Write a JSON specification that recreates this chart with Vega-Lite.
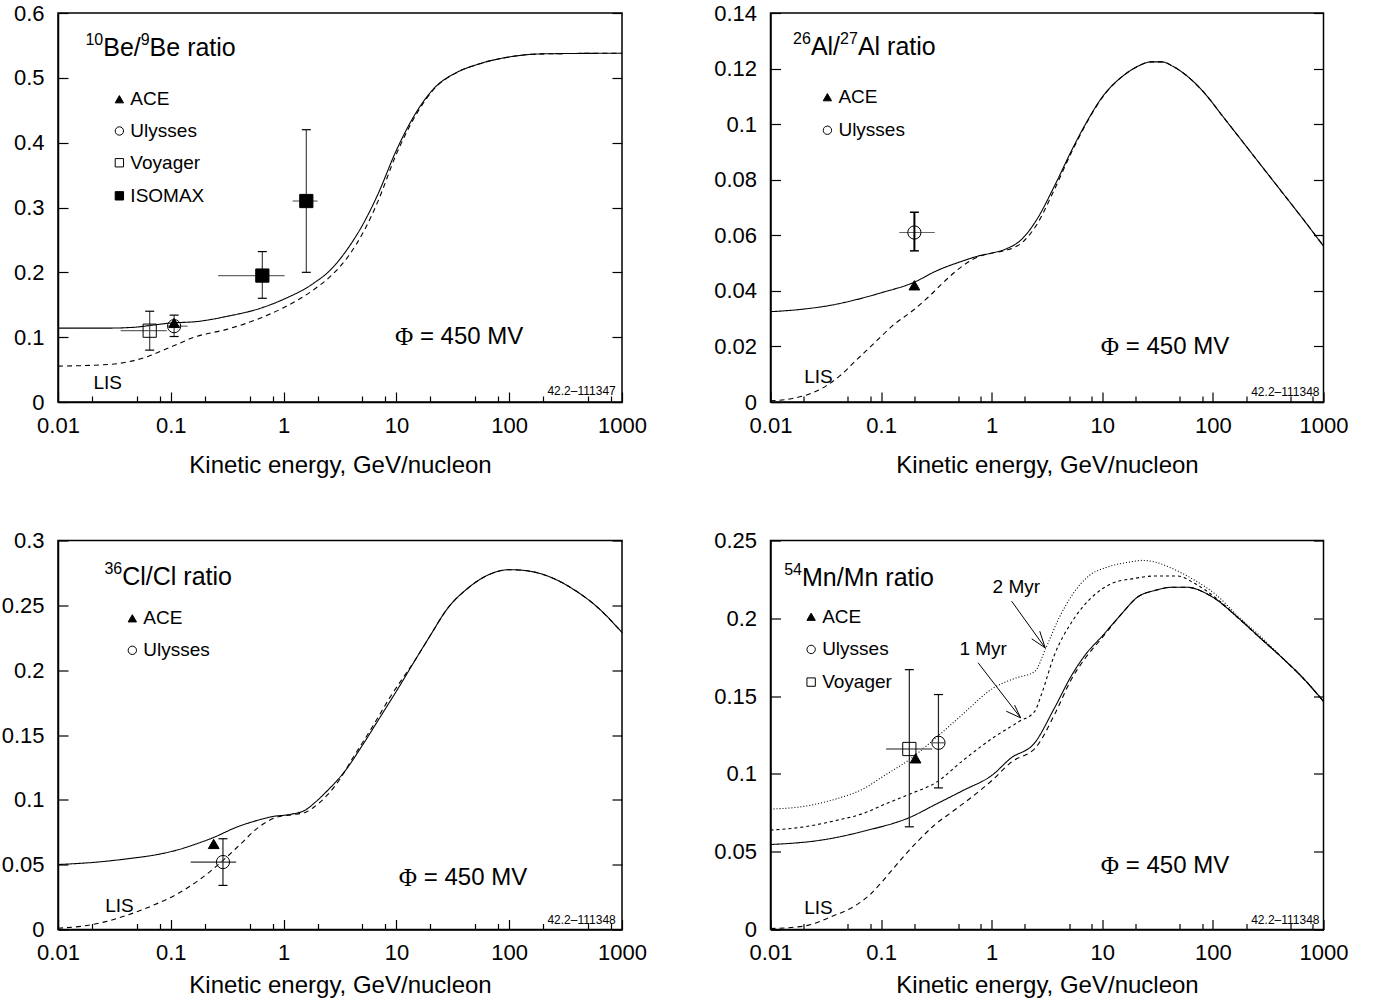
{
  "$schema": "https://vega.github.io/schema/vega-lite/v6.json",
  "background": "white",
  "padding": {"left": 0, "top": 1, "right": 0, "bottom": 0},
  "config": {
    "font": "Liberation Sans",
    "view": {"stroke": "black", "strokeWidth": 1.5},
    "axis": {"grid": false, "labelFont": "Liberation Sans", "labelFontSize": 22, "labelColor": "black", "tickColor": "black", "tickWidth": 1.2, "domainColor": "black", "domainWidth": 1.5, "titleFont": "Liberation Sans", "titleFontSize": 24, "titleFontWeight": "normal", "titleColor": "black"},
    "text": {"font": "Liberation Sans", "color": "black", "baseline": "middle", "align": "left"}
  },
  "datasets": {
    "be_c": [
      {"s":"mod","E":0.01,"v":0.114},{"s":"mod","E":0.0286,"v":0.114},{"s":"mod","E":0.0447,"v":0.115},{"s":"mod","E":0.1035,"v":0.122},{"s":"mod","E":0.168,"v":0.124},{"s":"mod","E":0.313,"v":0.132},{"s":"mod","E":0.634,"v":0.145},{"s":"mod","E":0.988,"v":0.158},{"s":"mod","E":1.84,"v":0.183},{"s":"mod","E":2.61,"v":0.204},{"s":"mod","E":3.72,"v":0.237},{"s":"mod","E":5.31,"v":0.281},{"s":"mod","E":6.92,"v":0.322},{"s":"mod","E":9.86,"v":0.386},{"s":"mod","E":15.4,"v":0.45},{"s":"mod","E":21.9,"v":0.485},{"s":"mod","E":34,"v":0.508},{"s":"mod","E":53,"v":0.521},{"s":"mod","E":98.4,"v":0.532},{"s":"mod","E":200,"v":0.537},{"s":"mod","E":1000,"v":0.538},
      {"s":"lis","E":0.01,"v":0.0553},{"s":"lis","E":0.0286,"v":0.058},{"s":"lis","E":0.0447,"v":0.063},{"s":"lis","E":0.0636,"v":0.0707},{"s":"lis","E":0.1035,"v":0.086},{"s":"lis","E":0.168,"v":0.101},{"s":"lis","E":0.313,"v":0.112},{"s":"lis","E":0.634,"v":0.13},{"s":"lis","E":0.988,"v":0.145},{"s":"lis","E":1.84,"v":0.173},{"s":"lis","E":2.61,"v":0.194},{"s":"lis","E":3.72,"v":0.224},{"s":"lis","E":5.31,"v":0.268},{"s":"lis","E":6.92,"v":0.311},{"s":"lis","E":9.86,"v":0.38},{"s":"lis","E":15.4,"v":0.447},{"s":"lis","E":21.9,"v":0.484},{"s":"lis","E":34,"v":0.508},{"s":"lis","E":53,"v":0.521},{"s":"lis","E":98.4,"v":0.532},{"s":"lis","E":200,"v":0.537},{"s":"lis","E":1000,"v":0.538}
    ],
    "be_d": [
      {"inst":"Voyager","E":0.065,"v":0.11,"vlo":0.08,"vhi":0.14,"Elo":0.036,"Ehi":0.092},
      {"inst":"Ulysses","E":0.107,"v":0.117,"vlo":0.101,"vhi":0.134,"Elo":0.094,"Ehi":0.141},
      {"inst":"ACE","E":0.107,"v":0.122},
      {"inst":"ISOMAX","E":0.648,"v":0.195,"vlo":0.16,"vhi":0.232,"Elo":0.263,"Ehi":1.02},
      {"inst":"ISOMAX","E":1.59,"v":0.31,"vlo":0.2,"vhi":0.42,"Elo":1.2,"Ehi":2.0}
    ],
    "be_k": [
      {"inst":"ACE","E":0.035,"v":0.467},{"inst":"Ulysses","E":0.035,"v":0.418},{"inst":"Voyager","E":0.035,"v":0.369},{"inst":"ISOMAX","E":0.035,"v":0.318}
    ],
    "be_n": [
      {"k":"title","a":"10","b":"Be/","c":"9","d":"Be ratio","E":0.0175,"v":0.546},
      {"k":"phi","sym":"Φ","t":"= 450 MV","E":9.7,"v":0.101},
      {"k":"lis","t":"LIS","E":0.0206,"v":0.029},
      {"k":"code","t":"42.2–111347","E":880,"v":0.0165}
    ],
    "al_c": [
      {"s":"mod","E":0.01,"v":0.0325},{"s":"mod","E":0.0185,"v":0.0333},{"s":"mod","E":0.035,"v":0.0348},{"s":"mod","E":0.0605,"v":0.0369},{"s":"mod","E":0.1,"v":0.0393},{"s":"mod","E":0.199,"v":0.0431},{"s":"mod","E":0.313,"v":0.0471},{"s":"mod","E":0.542,"v":0.0507},{"s":"mod","E":0.782,"v":0.0527},{"s":"mod","E":1.03,"v":0.0537},{"s":"mod","E":1.35,"v":0.0551},{"s":"mod","E":1.86,"v":0.0585},{"s":"mod","E":2.56,"v":0.0657},{"s":"mod","E":3.69,"v":0.0777},{"s":"mod","E":5.32,"v":0.0908},{"s":"mod","E":7.0,"v":0.0998},{"s":"mod","E":10.1,"v":0.11},{"s":"mod","E":15.9,"v":0.1178},{"s":"mod","E":20.9,"v":0.1208},{"s":"mod","E":27.5,"v":0.1224},{"s":"mod","E":34.7,"v":0.1224},{"s":"mod","E":43.5,"v":0.1208},{"s":"mod","E":57.3,"v":0.1176},{"s":"mod","E":82.6,"v":0.1115},{"s":"mod","E":124.5,"v":0.1025},{"s":"mod","E":188,"v":0.0934},{"s":"mod","E":271,"v":0.0853},{"s":"mod","E":428,"v":0.0752},{"s":"mod","E":675,"v":0.0651},{"s":"mod","E":1000,"v":0.0561},
      {"s":"lis","E":0.01,"v":0.0004},{"s":"lis","E":0.0154,"v":0.0012},{"s":"lis","E":0.0222,"v":0.0028},{"s":"lis","E":0.0319,"v":0.0058},{"s":"lis","E":0.042,"v":0.0093},{"s":"lis","E":0.0605,"v":0.0153},{"s":"lis","E":0.0871,"v":0.0213},{"s":"lis","E":0.1256,"v":0.0273},{"s":"lis","E":0.199,"v":0.0333},{"s":"lis","E":0.273,"v":0.0381},{"s":"lis","E":0.376,"v":0.0435},{"s":"lis","E":0.542,"v":0.0489},{"s":"lis","E":0.782,"v":0.0525},{"s":"lis","E":1.03,"v":0.0537},{"s":"lis","E":1.35,"v":0.0546},{"s":"lis","E":1.95,"v":0.0579},{"s":"lis","E":2.56,"v":0.0639},{"s":"lis","E":3.69,"v":0.0765},{"s":"lis","E":5.32,"v":0.0902},{"s":"lis","E":7.0,"v":0.0995},{"s":"lis","E":10.1,"v":0.1098},{"s":"lis","E":15.9,"v":0.1178},{"s":"lis","E":20.9,"v":0.1208},{"s":"lis","E":27.5,"v":0.1224},{"s":"lis","E":34.7,"v":0.1224},{"s":"lis","E":43.5,"v":0.1208},{"s":"lis","E":57.3,"v":0.1176},{"s":"lis","E":82.6,"v":0.1115},{"s":"lis","E":124.5,"v":0.1025},{"s":"lis","E":188,"v":0.0934},{"s":"lis","E":271,"v":0.0853},{"s":"lis","E":428,"v":0.0752},{"s":"lis","E":675,"v":0.0651},{"s":"lis","E":1000,"v":0.0561}
    ],
    "al_d": [
      {"inst":"Ulysses","E":0.2,"v":0.061,"vlo":0.0544,"vhi":0.0683,"Elo":0.146,"Ehi":0.306},
      {"inst":"ACE","E":0.2,"v":0.042}
    ],
    "al_k": [
      {"inst":"ACE","E":0.0327,"v":0.1097},{"inst":"Ulysses","E":0.0327,"v":0.0978}
    ],
    "al_n": [
      {"k":"title","a":"26","b":"Al/","c":"27","d":"Al ratio","E":0.016,"v":0.1277},
      {"k":"phi","sym":"Φ","t":"= 450 MV","E":9.69,"v":0.0199},
      {"k":"lis","t":"LIS","E":0.0202,"v":0.0091},
      {"k":"code","t":"42.2–111348","E":920,"v":0.0036}
    ],
    "cl_c": [
      {"s":"mod","E":0.01,"v":0.0501},{"s":"mod","E":0.0216,"v":0.0519},{"s":"mod","E":0.0409,"v":0.0545},{"s":"mod","E":0.0812,"v":0.0583},{"s":"mod","E":0.115,"v":0.0614},{"s":"mod","E":0.168,"v":0.066},{"s":"mod","E":0.2415,"v":0.0711},{"s":"mod","E":0.38,"v":0.0788},{"s":"mod","E":0.599,"v":0.0844},{"s":"mod","E":0.787,"v":0.087},{"s":"mod","E":1.18,"v":0.089},{"s":"mod","E":1.55,"v":0.092},{"s":"mod","E":1.9,"v":0.098},{"s":"mod","E":2.44,"v":0.107},{"s":"mod","E":3.51,"v":0.1223},{"s":"mod","E":5.05,"v":0.1427},{"s":"mod","E":7.26,"v":0.1645},{"s":"mod","E":10.4,"v":0.1862},{"s":"mod","E":15.0,"v":0.2092},{"s":"mod","E":19.7,"v":0.2259},{"s":"mod","E":28.4,"v":0.2476},{"s":"mod","E":42.7,"v":0.263},{"s":"mod","E":64.3,"v":0.2732},{"s":"mod","E":101,"v":0.2775},{"s":"mod","E":133,"v":0.277},{"s":"mod","E":210,"v":0.2732},{"s":"mod","E":361,"v":0.263},{"s":"mod","E":623,"v":0.2476},{"s":"mod","E":1000,"v":0.229},
      {"s":"lis","E":0.01,"v":0.001},{"s":"lis","E":0.0165,"v":0.0026},{"s":"lis","E":0.026,"v":0.0059},{"s":"lis","E":0.0409,"v":0.011},{"s":"lis","E":0.07,"v":0.0187},{"s":"lis","E":0.115,"v":0.0276},{"s":"lis","E":0.184,"v":0.0391},{"s":"lis","E":0.29,"v":0.0532},{"s":"lis","E":0.416,"v":0.066},{"s":"lis","E":0.599,"v":0.0788},{"s":"lis","E":0.8625,"v":0.0865},{"s":"lis","E":1.18,"v":0.0885},{"s":"lis","E":1.55,"v":0.0903},{"s":"lis","E":2.04,"v":0.0972},{"s":"lis","E":2.93,"v":0.112},{"s":"lis","E":4.21,"v":0.1338},{"s":"lis","E":6.05,"v":0.1555},{"s":"lis","E":8.71,"v":0.1786},{"s":"lis","E":15.0,"v":0.2092},{"s":"lis","E":19.7,"v":0.2259},{"s":"lis","E":28.4,"v":0.2476},{"s":"lis","E":42.7,"v":0.263},{"s":"lis","E":64.3,"v":0.2732},{"s":"lis","E":101,"v":0.2775},{"s":"lis","E":133,"v":0.277},{"s":"lis","E":210,"v":0.2732},{"s":"lis","E":361,"v":0.263},{"s":"lis","E":623,"v":0.2476},{"s":"lis","E":1000,"v":0.229}
    ],
    "cl_d": [
      {"inst":"ACE","E":0.24,"v":0.066},
      {"inst":"Ulysses","E":0.29,"v":0.052,"vlo":0.034,"vhi":0.07,"Elo":0.15,"Ehi":0.38}
    ],
    "cl_k": [
      {"inst":"ACE","E":0.0456,"v":0.24},{"inst":"Ulysses","E":0.0456,"v":0.2153}
    ],
    "cl_n": [
      {"k":"title","a":"36","b":"Cl/Cl ratio","E":0.0258,"v":0.2716},
      {"k":"phi","sym":"Φ","t":"= 450 MV","E":10.5,"v":0.0401},
      {"k":"lis","t":"LIS","E":0.0262,"v":0.0185},
      {"k":"code","t":"42.2–111348","E":880,"v":0.0077}
    ],
    "mn_c": [
      {"s":"mod","E":0.01,"v":0.0546},{"s":"mod","E":0.0291,"v":0.0575},{"s":"mod","E":0.0726,"v":0.0635},{"s":"mod","E":0.181,"v":0.072},{"s":"mod","E":0.313,"v":0.0805},{"s":"mod","E":0.542,"v":0.0891},{"s":"mod","E":1.03,"v":0.0997},{"s":"mod","E":1.48,"v":0.11},{"s":"mod","E":2.45,"v":0.12},{"s":"mod","E":3.69,"v":0.1423},{"s":"mod","E":5.32,"v":0.1637},{"s":"mod","E":7.0,"v":0.1764},{"s":"mod","E":10.1,"v":0.189},{"s":"mod","E":14.6,"v":0.202},{"s":"mod","E":20.9,"v":0.2137},{"s":"mod","E":30.2,"v":0.218},{"s":"mod","E":43.5,"v":0.22},{"s":"mod","E":57.3,"v":0.22},{"s":"mod","E":99,"v":0.2137},{"s":"mod","E":171,"v":0.2},{"s":"mod","E":271,"v":0.187},{"s":"mod","E":428,"v":0.1743},{"s":"mod","E":675,"v":0.1605},{"s":"mod","E":1000,"v":0.1466},
      {"s":"lis","E":0.01,"v":0.0006},{"s":"lis","E":0.0154,"v":0.0013},{"s":"lis","E":0.0222,"v":0.0028},{"s":"lis","E":0.035,"v":0.0081},{"s":"lis","E":0.0605,"v":0.016},{"s":"lis","E":0.0796,"v":0.0225},{"s":"lis","E":0.1,"v":0.03},{"s":"lis","E":0.13,"v":0.0395},{"s":"lis","E":0.165,"v":0.048},{"s":"lis","E":0.217,"v":0.0571},{"s":"lis","E":0.299,"v":0.0667},{"s":"lis","E":0.452,"v":0.0763},{"s":"lis","E":0.714,"v":0.087},{"s":"lis","E":1.03,"v":0.0965},{"s":"lis","E":1.48,"v":0.1072},{"s":"lis","E":2.56,"v":0.1178},{"s":"lis","E":3.69,"v":0.138},{"s":"lis","E":5.32,"v":0.1615},{"s":"lis","E":7.0,"v":0.1743},{"s":"lis","E":10.1,"v":0.188},{"s":"lis","E":14.6,"v":0.202},{"s":"lis","E":20.9,"v":0.2137},{"s":"lis","E":30.2,"v":0.218},{"s":"lis","E":43.5,"v":0.22},{"s":"lis","E":57.3,"v":0.22},{"s":"lis","E":99,"v":0.2137},{"s":"lis","E":171,"v":0.2},{"s":"lis","E":271,"v":0.187},{"s":"lis","E":428,"v":0.1743},{"s":"lis","E":675,"v":0.1605},{"s":"lis","E":1000,"v":0.1466},
      {"s":"m1","E":0.01,"v":0.0639},{"s":"m1","E":0.0185,"v":0.0656},{"s":"m1","E":0.0383,"v":0.0699},{"s":"m1","E":0.0726,"v":0.0752},{"s":"m1","E":0.1,"v":0.0795},{"s":"m1","E":0.181,"v":0.087},{"s":"m1","E":0.313,"v":0.0944},{"s":"m1","E":0.542,"v":0.1083},{"s":"m1","E":1.03,"v":0.1232},{"s":"m1","E":1.78,"v":0.1338},{"s":"m1","E":2.45,"v":0.1402},{"s":"m1","E":2.81,"v":0.1509},{"s":"m1","E":3.69,"v":0.1764},{"s":"m1","E":5.32,"v":0.1978},{"s":"m1","E":8.41,"v":0.2148},{"s":"m1","E":12.1,"v":0.2223},{"s":"m1","E":19.1,"v":0.2255},{"s":"m1","E":30.2,"v":0.2272},{"s":"m1","E":47.8,"v":0.2272},{"s":"m1","E":68.7,"v":0.2223},{"s":"m1","E":108,"v":0.2127},{"s":"m1","E":171,"v":0.2},{"s":"m1","E":271,"v":0.187},{"s":"m1","E":428,"v":0.1743},{"s":"m1","E":675,"v":0.1605},{"s":"m1","E":1000,"v":0.1466},
      {"s":"m2","E":0.01,"v":0.0774},{"s":"m2","E":0.0185,"v":0.0788},{"s":"m2","E":0.0383,"v":0.0837},{"s":"m2","E":0.0726,"v":0.0912},{"s":"m2","E":0.1,"v":0.0976},{"s":"m2","E":0.181,"v":0.1093},{"s":"m2","E":0.313,"v":0.1232},{"s":"m2","E":0.542,"v":0.1381},{"s":"m2","E":1.03,"v":0.1551},{"s":"m2","E":1.63,"v":0.1615},{"s":"m2","E":2.45,"v":0.1658},{"s":"m2","E":3.08,"v":0.1807},{"s":"m2","E":4.05,"v":0.2},{"s":"m2","E":5.32,"v":0.2148},{"s":"m2","E":7.67,"v":0.2276},{"s":"m2","E":11.1,"v":0.2329},{"s":"m2","E":17.5,"v":0.2361},{"s":"m2","E":23.0,"v":0.2372},{"s":"m2","E":30.2,"v":0.2361},{"s":"m2","E":43.5,"v":0.2318},{"s":"m2","E":68.7,"v":0.2244},{"s":"m2","E":108,"v":0.2148},{"s":"m2","E":171,"v":0.2009},{"s":"m2","E":271,"v":0.1882},{"s":"m2","E":428,"v":0.1743},{"s":"m2","E":675,"v":0.1605},{"s":"m2","E":1000,"v":0.1466}
    ],
    "mn_d": [
      {"inst":"Voyager","E":0.18,"v":0.116,"vlo":0.066,"vhi":0.167,"Elo":0.111,"Ehi":0.29},
      {"inst":"ACE","E":0.205,"v":0.11},
      {"inst":"Ulysses","E":0.33,"v":0.12,"vlo":0.091,"vhi":0.151,"Elo":0.29,"Ehi":0.375}
    ],
    "mn_k": [
      {"inst":"ACE","E":0.0233,"v":0.201},{"inst":"Ulysses","E":0.0233,"v":0.18},{"inst":"Voyager","E":0.0233,"v":0.159}
    ],
    "mn_n": [
      {"k":"title","a":"54","b":"Mn/Mn ratio","E":0.0133,"v":0.226},
      {"k":"phi","sym":"Φ","t":"= 450 MV","E":9.69,"v":0.0411},
      {"k":"lis","t":"LIS","E":0.0202,"v":0.0141},
      {"k":"code","t":"42.2–111348","E":920,"v":0.0064},
      {"k":"myr","t":"2 Myr","E":1.67,"v":0.2198},
      {"k":"myr","t":"1 Myr","E":0.837,"v":0.18}
    ],
    "mn_a": [
      {"E1":1.514,"v1":0.211,"E2":3.045,"v2":0.181},
      {"E1":2.72,"v1":0.1917,"E2":3.045,"v2":0.181},
      {"E1":2.3,"v1":0.1868,"E2":3.045,"v2":0.181},
      {"E1":0.754,"v1":0.1714,"E2":1.827,"v2":0.136},
      {"E1":1.612,"v1":0.1442,"E2":1.827,"v2":0.136},
      {"E1":1.354,"v1":0.1403,"E2":1.827,"v2":0.136}
    ]
  },
  "columns": 2,
  "spacing": {"row": 138.5, "column": 148.5},
  "bounds": "flush",
  "concat": [
    {
      "width": 564, "height": 389,
      "resolve": {"axis": {"x": "independent", "y": "independent"}},
      "layer": [
        {"data": {"name": "be_c"}, "mark": {"type": "line", "interpolate": "monotone", "color": "black", "strokeWidth": 1.1},
         "encoding": {
           "x": {"field": "E", "type": "quantitative", "scale": {"type": "log", "domain": [0.01, 1000], "nice": false}, "axis": {"orient": "bottom", "values": [0.01, 0.1, 1, 10, 100, 1000], "format": "~g", "tickSize": -10, "labelPadding": 23, "labelFlush": false, "labelOverlap": false, "title": "Kinetic energy, GeV/nucleon", "titlePadding": 17}},
           "y": {"field": "v", "type": "quantitative", "scale": {"domain": [0, 0.6], "nice": false, "zero": false}, "axis": {"orient": "left", "values": [0, 0.1, 0.2, 0.3, 0.4, 0.5, 0.6], "format": "~g", "tickSize": -10, "labelPadding": 24, "title": null}},
           "strokeDash": {"field": "s", "type": "nominal", "scale": {"domain": ["mod", "lis", "m1", "m2"], "range": [[1, 0], [5, 4], [3, 3], [1, 2]]}, "legend": null}
         }},
        {"data": {"name": "be_d"}, "mark": {"type": "rule", "color": "#666", "strokeWidth": 1.2},
         "encoding": {
           "x": {"field": "Elo", "type": "quantitative", "axis": {"orient": "bottom", "values": [0.02, 0.05, 0.08, 0.2, 0.5, 0.8, 2, 5, 8, 20, 50, 80, 200, 500, 800], "labels": false, "domain": false, "tickSize": -6, "title": null}},
           "x2": {"field": "Ehi"},
           "y": {"field": "v", "type": "quantitative", "axis": {"orient": "right", "values": [0, 0.1, 0.2, 0.3, 0.4, 0.5, 0.6], "labels": false, "domain": false, "tickSize": -10, "title": null}}
         }},
        {"data": {"name": "be_d"}, "mark": {"type": "rule", "color": "#444", "strokeWidth": 1.2},
         "encoding": {"x": {"field": "E", "type": "quantitative", "axis": null}, "y": {"field": "vlo", "type": "quantitative", "axis": null}, "y2": {"field": "vhi"}}},
        {"data": {"name": "be_d"}, "mark": {"type": "tick", "orient": "horizontal", "color": "black", "thickness": 1.2, "size": 9, "opacity": 1},
         "encoding": {"x": {"field": "E", "type": "quantitative", "axis": null}, "y": {"field": "vlo", "type": "quantitative", "axis": null}}},
        {"data": {"name": "be_d"}, "mark": {"type": "tick", "orient": "horizontal", "color": "black", "thickness": 1.2, "size": 9, "opacity": 1},
         "encoding": {"x": {"field": "E", "type": "quantitative", "axis": null}, "y": {"field": "vhi", "type": "quantitative", "axis": null}}},
        {"data": {"name": "be_d"}, "mark": {"type": "point", "filled": true, "stroke": "black", "strokeWidth": 1, "opacity": 1},
         "encoding": {
           "x": {"field": "E", "type": "quantitative", "axis": null}, "y": {"field": "v", "type": "quantitative", "axis": null},
           "shape": {"field": "inst", "type": "nominal", "scale": {"domain": ["ACE", "Ulysses", "Voyager", "ISOMAX"], "range": ["triangle-up", "circle", "square", "square"]}, "legend": null},
           "fill": {"field": "inst", "type": "nominal", "scale": {"domain": ["ACE", "Ulysses", "Voyager", "ISOMAX"], "range": ["black", "transparent", "transparent", "black"]}, "legend": null},
           "size": {"field": "inst", "type": "nominal", "scale": {"type": "ordinal", "domain": ["ACE", "Ulysses", "Voyager", "ISOMAX"], "range": [115, 175, 175, 175]}, "legend": null}
         }},
        {"data": {"name": "be_k"}, "mark": {"type": "point", "filled": true, "stroke": "black", "strokeWidth": 1, "opacity": 1, "size": 70},
         "encoding": {"x": {"field": "E", "type": "quantitative", "axis": null}, "y": {"field": "v", "type": "quantitative", "axis": null}, "shape": {"field": "inst", "type": "nominal", "legend": null}, "fill": {"field": "inst", "type": "nominal", "legend": null}}},
        {"data": {"name": "be_k"}, "mark": {"type": "text", "dx": 11, "fontSize": 19},
         "encoding": {"x": {"field": "E", "type": "quantitative", "axis": null}, "y": {"field": "v", "type": "quantitative", "axis": null}, "text": {"field": "inst"}}},
        {"data": {"name": "be_n"}, "transform": [{"filter": "datum.k === 'title'"}], "mark": {"type": "text", "fontSize": 16, "dy": -8},
         "encoding": {"x": {"field": "E", "type": "quantitative", "axis": null}, "y": {"field": "v", "type": "quantitative", "axis": null}, "text": {"field": "a"}}},
        {"data": {"name": "be_n"}, "transform": [{"filter": "datum.k === 'title'"}], "mark": {"type": "text", "fontSize": 25, "dx": 17.8},
         "encoding": {"x": {"field": "E", "type": "quantitative", "axis": null}, "y": {"field": "v", "type": "quantitative", "axis": null}, "text": {"field": "b"}}},
        {"data": {"name": "be_n"}, "transform": [{"filter": "datum.k === 'title'"}], "mark": {"type": "text", "fontSize": 16, "dy": -8, "dx": 55.3},
         "encoding": {"x": {"field": "E", "type": "quantitative", "axis": null}, "y": {"field": "v", "type": "quantitative", "axis": null}, "text": {"field": "c"}}},
        {"data": {"name": "be_n"}, "transform": [{"filter": "datum.k === 'title'"}], "mark": {"type": "text", "fontSize": 25, "dx": 64.2},
         "encoding": {"x": {"field": "E", "type": "quantitative", "axis": null}, "y": {"field": "v", "type": "quantitative", "axis": null}, "text": {"field": "d"}}},
        {"data": {"name": "be_n"}, "transform": [{"filter": "datum.k === 'phi'"}], "mark": {"type": "text", "fontSize": 25, "font": "Liberation Serif"},
         "encoding": {"x": {"field": "E", "type": "quantitative", "axis": null}, "y": {"field": "v", "type": "quantitative", "axis": null}, "text": {"field": "sym"}}},
        {"data": {"name": "be_n"}, "transform": [{"filter": "datum.k === 'phi'"}], "mark": {"type": "text", "dx": 25, "fontSize": 24},
         "encoding": {"x": {"field": "E", "type": "quantitative", "axis": null}, "y": {"field": "v", "type": "quantitative", "axis": null}, "text": {"field": "t"}}},
        {"data": {"name": "be_n"}, "transform": [{"filter": "datum.k === 'lis'"}], "mark": {"type": "text", "fontSize": 19},
         "encoding": {"x": {"field": "E", "type": "quantitative", "axis": null}, "y": {"field": "v", "type": "quantitative", "axis": null}, "text": {"field": "t"}}},
        {"data": {"name": "be_n"}, "transform": [{"filter": "datum.k === 'code'"}], "mark": {"type": "text", "align": "right", "fontSize": 12},
         "encoding": {"x": {"field": "E", "type": "quantitative", "axis": null}, "y": {"field": "v", "type": "quantitative", "axis": null}, "text": {"field": "t"}}}
      ]
    },
    {
      "width": 553, "height": 389,
      "resolve": {"axis": {"x": "independent", "y": "independent"}},
      "layer": [
        {"data": {"name": "al_c"}, "mark": {"type": "line", "interpolate": "monotone", "color": "black", "strokeWidth": 1.1},
         "encoding": {
           "x": {"field": "E", "type": "quantitative", "scale": {"type": "log", "domain": [0.01, 1000], "nice": false}, "axis": {"orient": "bottom", "values": [0.01, 0.1, 1, 10, 100, 1000], "format": "~g", "tickSize": -10, "labelPadding": 23, "labelFlush": false, "labelOverlap": false, "title": "Kinetic energy, GeV/nucleon", "titlePadding": 17}},
           "y": {"field": "v", "type": "quantitative", "scale": {"domain": [0, 0.14], "nice": false, "zero": false}, "axis": {"orient": "left", "values": [0, 0.02, 0.04, 0.06, 0.08, 0.1, 0.12, 0.14], "format": "~g", "tickSize": -10, "labelPadding": 24, "title": null}},
           "strokeDash": {"field": "s", "type": "nominal", "scale": {"domain": ["mod", "lis", "m1", "m2"], "range": [[1, 0], [5, 4], [3, 3], [1, 2]]}, "legend": null}
         }},
        {"data": {"name": "al_d"}, "mark": {"type": "rule", "color": "#666", "strokeWidth": 1.2},
         "encoding": {
           "x": {"field": "Elo", "type": "quantitative", "axis": {"orient": "bottom", "values": [0.02, 0.05, 0.08, 0.2, 0.5, 0.8, 2, 5, 8, 20, 50, 80, 200, 500, 800], "labels": false, "domain": false, "tickSize": -6, "title": null}},
           "x2": {"field": "Ehi"},
           "y": {"field": "v", "type": "quantitative", "axis": {"orient": "right", "values": [0, 0.02, 0.04, 0.06, 0.08, 0.1, 0.12, 0.14], "labels": false, "domain": false, "tickSize": -10, "title": null}}
         }},
        {"data": {"name": "al_d"}, "mark": {"type": "rule", "color": "black", "strokeWidth": 2},
         "encoding": {"x": {"field": "E", "type": "quantitative", "axis": null}, "y": {"field": "vlo", "type": "quantitative", "axis": null}, "y2": {"field": "vhi"}}},
        {"data": {"name": "al_d"}, "mark": {"type": "tick", "orient": "horizontal", "color": "black", "thickness": 1.5, "size": 9, "opacity": 1},
         "encoding": {"x": {"field": "E", "type": "quantitative", "axis": null}, "y": {"field": "vlo", "type": "quantitative", "axis": null}}},
        {"data": {"name": "al_d"}, "mark": {"type": "tick", "orient": "horizontal", "color": "black", "thickness": 1.5, "size": 9, "opacity": 1},
         "encoding": {"x": {"field": "E", "type": "quantitative", "axis": null}, "y": {"field": "vhi", "type": "quantitative", "axis": null}}},
        {"data": {"name": "al_d"}, "mark": {"type": "point", "filled": true, "stroke": "black", "strokeWidth": 1, "opacity": 1},
         "encoding": {
           "x": {"field": "E", "type": "quantitative", "axis": null}, "y": {"field": "v", "type": "quantitative", "axis": null},
           "shape": {"field": "inst", "type": "nominal", "scale": {"domain": ["ACE", "Ulysses", "Voyager", "ISOMAX"], "range": ["triangle-up", "circle", "square", "square"]}, "legend": null},
           "fill": {"field": "inst", "type": "nominal", "scale": {"domain": ["ACE", "Ulysses", "Voyager", "ISOMAX"], "range": ["black", "transparent", "transparent", "black"]}, "legend": null},
           "size": {"field": "inst", "type": "nominal", "scale": {"type": "ordinal", "domain": ["ACE", "Ulysses", "Voyager", "ISOMAX"], "range": [115, 175, 175, 175]}, "legend": null}
         }},
        {"data": {"name": "al_k"}, "mark": {"type": "point", "filled": true, "stroke": "black", "strokeWidth": 1, "opacity": 1, "size": 70},
         "encoding": {"x": {"field": "E", "type": "quantitative", "axis": null}, "y": {"field": "v", "type": "quantitative", "axis": null}, "shape": {"field": "inst", "type": "nominal", "legend": null}, "fill": {"field": "inst", "type": "nominal", "legend": null}}},
        {"data": {"name": "al_k"}, "mark": {"type": "text", "dx": 11, "fontSize": 19},
         "encoding": {"x": {"field": "E", "type": "quantitative", "axis": null}, "y": {"field": "v", "type": "quantitative", "axis": null}, "text": {"field": "inst"}}},
        {"data": {"name": "al_n"}, "transform": [{"filter": "datum.k === 'title'"}], "mark": {"type": "text", "fontSize": 16, "dy": -8},
         "encoding": {"x": {"field": "E", "type": "quantitative", "axis": null}, "y": {"field": "v", "type": "quantitative", "axis": null}, "text": {"field": "a"}}},
        {"data": {"name": "al_n"}, "transform": [{"filter": "datum.k === 'title'"}], "mark": {"type": "text", "fontSize": 25, "dx": 17.8},
         "encoding": {"x": {"field": "E", "type": "quantitative", "axis": null}, "y": {"field": "v", "type": "quantitative", "axis": null}, "text": {"field": "b"}}},
        {"data": {"name": "al_n"}, "transform": [{"filter": "datum.k === 'title'"}], "mark": {"type": "text", "fontSize": 16, "dy": -8, "dx": 47},
         "encoding": {"x": {"field": "E", "type": "quantitative", "axis": null}, "y": {"field": "v", "type": "quantitative", "axis": null}, "text": {"field": "c"}}},
        {"data": {"name": "al_n"}, "transform": [{"filter": "datum.k === 'title'"}], "mark": {"type": "text", "fontSize": 25, "dx": 64.8},
         "encoding": {"x": {"field": "E", "type": "quantitative", "axis": null}, "y": {"field": "v", "type": "quantitative", "axis": null}, "text": {"field": "d"}}},
        {"data": {"name": "al_n"}, "transform": [{"filter": "datum.k === 'phi'"}], "mark": {"type": "text", "fontSize": 25, "font": "Liberation Serif"},
         "encoding": {"x": {"field": "E", "type": "quantitative", "axis": null}, "y": {"field": "v", "type": "quantitative", "axis": null}, "text": {"field": "sym"}}},
        {"data": {"name": "al_n"}, "transform": [{"filter": "datum.k === 'phi'"}], "mark": {"type": "text", "dx": 25, "fontSize": 24},
         "encoding": {"x": {"field": "E", "type": "quantitative", "axis": null}, "y": {"field": "v", "type": "quantitative", "axis": null}, "text": {"field": "t"}}},
        {"data": {"name": "al_n"}, "transform": [{"filter": "datum.k === 'lis'"}], "mark": {"type": "text", "fontSize": 19},
         "encoding": {"x": {"field": "E", "type": "quantitative", "axis": null}, "y": {"field": "v", "type": "quantitative", "axis": null}, "text": {"field": "t"}}},
        {"data": {"name": "al_n"}, "transform": [{"filter": "datum.k === 'code'"}], "mark": {"type": "text", "align": "right", "fontSize": 12},
         "encoding": {"x": {"field": "E", "type": "quantitative", "axis": null}, "y": {"field": "v", "type": "quantitative", "axis": null}, "text": {"field": "t"}}}
      ]
    },
    {
      "width": 564, "height": 389,
      "resolve": {"axis": {"x": "independent", "y": "independent"}},
      "layer": [
        {"data": {"name": "cl_c"}, "mark": {"type": "line", "interpolate": "monotone", "color": "black", "strokeWidth": 1.1},
         "encoding": {
           "x": {"field": "E", "type": "quantitative", "scale": {"type": "log", "domain": [0.01, 1000], "nice": false}, "axis": {"orient": "bottom", "values": [0.01, 0.1, 1, 10, 100, 1000], "format": "~g", "tickSize": -10, "labelPadding": 23, "labelFlush": false, "labelOverlap": false, "title": "Kinetic energy, GeV/nucleon", "titlePadding": 10}},
           "y": {"field": "v", "type": "quantitative", "scale": {"domain": [0, 0.3], "nice": false, "zero": false}, "axis": {"orient": "left", "values": [0, 0.05, 0.1, 0.15, 0.2, 0.25, 0.3], "format": "~g", "tickSize": -10, "labelPadding": 24, "title": null}},
           "strokeDash": {"field": "s", "type": "nominal", "scale": {"domain": ["mod", "lis", "m1", "m2"], "range": [[1, 0], [5, 4], [3, 3], [1, 2]]}, "legend": null}
         }},
        {"data": {"name": "cl_d"}, "mark": {"type": "rule", "color": "#333", "strokeWidth": 1.3},
         "encoding": {
           "x": {"field": "Elo", "type": "quantitative", "axis": {"orient": "bottom", "values": [0.02, 0.05, 0.08, 0.2, 0.5, 0.8, 2, 5, 8, 20, 50, 80, 200, 500, 800], "labels": false, "domain": false, "tickSize": -6, "title": null}},
           "x2": {"field": "Ehi"},
           "y": {"field": "v", "type": "quantitative", "axis": {"orient": "right", "values": [0, 0.05, 0.1, 0.15, 0.2, 0.25, 0.3], "labels": false, "domain": false, "tickSize": -10, "title": null}}
         }},
        {"data": {"name": "cl_d"}, "mark": {"type": "rule", "color": "#333", "strokeWidth": 1.3},
         "encoding": {"x": {"field": "E", "type": "quantitative", "axis": null}, "y": {"field": "vlo", "type": "quantitative", "axis": null}, "y2": {"field": "vhi"}}},
        {"data": {"name": "cl_d"}, "mark": {"type": "tick", "orient": "horizontal", "color": "black", "thickness": 1.2, "size": 9, "opacity": 1},
         "encoding": {"x": {"field": "E", "type": "quantitative", "axis": null}, "y": {"field": "vlo", "type": "quantitative", "axis": null}}},
        {"data": {"name": "cl_d"}, "mark": {"type": "tick", "orient": "horizontal", "color": "black", "thickness": 1.2, "size": 9, "opacity": 1},
         "encoding": {"x": {"field": "E", "type": "quantitative", "axis": null}, "y": {"field": "vhi", "type": "quantitative", "axis": null}}},
        {"data": {"name": "cl_d"}, "mark": {"type": "point", "filled": true, "stroke": "black", "strokeWidth": 1, "opacity": 1},
         "encoding": {
           "x": {"field": "E", "type": "quantitative", "axis": null}, "y": {"field": "v", "type": "quantitative", "axis": null},
           "shape": {"field": "inst", "type": "nominal", "scale": {"domain": ["ACE", "Ulysses", "Voyager", "ISOMAX"], "range": ["triangle-up", "circle", "square", "square"]}, "legend": null},
           "fill": {"field": "inst", "type": "nominal", "scale": {"domain": ["ACE", "Ulysses", "Voyager", "ISOMAX"], "range": ["black", "transparent", "transparent", "black"]}, "legend": null},
           "size": {"field": "inst", "type": "nominal", "scale": {"type": "ordinal", "domain": ["ACE", "Ulysses", "Voyager", "ISOMAX"], "range": [115, 175, 175, 175]}, "legend": null}
         }},
        {"data": {"name": "cl_k"}, "mark": {"type": "point", "filled": true, "stroke": "black", "strokeWidth": 1, "opacity": 1, "size": 70},
         "encoding": {"x": {"field": "E", "type": "quantitative", "axis": null}, "y": {"field": "v", "type": "quantitative", "axis": null}, "shape": {"field": "inst", "type": "nominal", "legend": null}, "fill": {"field": "inst", "type": "nominal", "legend": null}}},
        {"data": {"name": "cl_k"}, "mark": {"type": "text", "dx": 11, "fontSize": 19},
         "encoding": {"x": {"field": "E", "type": "quantitative", "axis": null}, "y": {"field": "v", "type": "quantitative", "axis": null}, "text": {"field": "inst"}}},
        {"data": {"name": "cl_n"}, "transform": [{"filter": "datum.k === 'title'"}], "mark": {"type": "text", "fontSize": 16, "dy": -8},
         "encoding": {"x": {"field": "E", "type": "quantitative", "axis": null}, "y": {"field": "v", "type": "quantitative", "axis": null}, "text": {"field": "a"}}},
        {"data": {"name": "cl_n"}, "transform": [{"filter": "datum.k === 'title'"}], "mark": {"type": "text", "fontSize": 25, "dx": 17.8},
         "encoding": {"x": {"field": "E", "type": "quantitative", "axis": null}, "y": {"field": "v", "type": "quantitative", "axis": null}, "text": {"field": "b"}}},
        {"data": {"name": "cl_n"}, "transform": [{"filter": "datum.k === 'phi'"}], "mark": {"type": "text", "fontSize": 25, "font": "Liberation Serif"},
         "encoding": {"x": {"field": "E", "type": "quantitative", "axis": null}, "y": {"field": "v", "type": "quantitative", "axis": null}, "text": {"field": "sym"}}},
        {"data": {"name": "cl_n"}, "transform": [{"filter": "datum.k === 'phi'"}], "mark": {"type": "text", "dx": 25, "fontSize": 24},
         "encoding": {"x": {"field": "E", "type": "quantitative", "axis": null}, "y": {"field": "v", "type": "quantitative", "axis": null}, "text": {"field": "t"}}},
        {"data": {"name": "cl_n"}, "transform": [{"filter": "datum.k === 'lis'"}], "mark": {"type": "text", "fontSize": 19},
         "encoding": {"x": {"field": "E", "type": "quantitative", "axis": null}, "y": {"field": "v", "type": "quantitative", "axis": null}, "text": {"field": "t"}}},
        {"data": {"name": "cl_n"}, "transform": [{"filter": "datum.k === 'code'"}], "mark": {"type": "text", "align": "right", "fontSize": 12},
         "encoding": {"x": {"field": "E", "type": "quantitative", "axis": null}, "y": {"field": "v", "type": "quantitative", "axis": null}, "text": {"field": "t"}}}
      ]
    },
    {
      "width": 553, "height": 389,
      "resolve": {"axis": {"x": "independent", "y": "independent"}},
      "layer": [
        {"data": {"name": "mn_c"}, "mark": {"type": "line", "interpolate": "monotone", "color": "black", "strokeWidth": 1.1},
         "encoding": {
           "x": {"field": "E", "type": "quantitative", "scale": {"type": "log", "domain": [0.01, 1000], "nice": false}, "axis": {"orient": "bottom", "values": [0.01, 0.1, 1, 10, 100, 1000], "format": "~g", "tickSize": -10, "labelPadding": 23, "labelFlush": false, "labelOverlap": false, "title": "Kinetic energy, GeV/nucleon", "titlePadding": 10}},
           "y": {"field": "v", "type": "quantitative", "scale": {"domain": [0, 0.25], "nice": false, "zero": false}, "axis": {"orient": "left", "values": [0, 0.05, 0.1, 0.15, 0.2, 0.25], "format": "~g", "tickSize": -10, "labelPadding": 24, "title": null}},
           "strokeDash": {"field": "s", "type": "nominal", "scale": {"domain": ["mod", "lis", "m1", "m2"], "range": [[1, 0], [6, 4], [3, 3], [1, 2]]}, "legend": null}
         }},
        {"data": {"name": "mn_d"}, "mark": {"type": "rule", "color": "#666", "strokeWidth": 1.3},
         "encoding": {
           "x": {"field": "Elo", "type": "quantitative", "axis": {"orient": "bottom", "values": [0.02, 0.05, 0.08, 0.2, 0.5, 0.8, 2, 5, 8, 20, 50, 80, 200, 500, 800], "labels": false, "domain": false, "tickSize": -6, "title": null}},
           "x2": {"field": "Ehi"},
           "y": {"field": "v", "type": "quantitative", "axis": {"orient": "right", "values": [0, 0.05, 0.1, 0.15, 0.2, 0.25], "labels": false, "domain": false, "tickSize": -10, "title": null}}
         }},
        {"data": {"name": "mn_d"}, "mark": {"type": "rule", "color": "#222", "strokeWidth": 1.2},
         "encoding": {"x": {"field": "E", "type": "quantitative", "axis": null}, "y": {"field": "vlo", "type": "quantitative", "axis": null}, "y2": {"field": "vhi"}}},
        {"data": {"name": "mn_d"}, "mark": {"type": "tick", "orient": "horizontal", "color": "black", "thickness": 1.2, "size": 9, "opacity": 1},
         "encoding": {"x": {"field": "E", "type": "quantitative", "axis": null}, "y": {"field": "vlo", "type": "quantitative", "axis": null}}},
        {"data": {"name": "mn_d"}, "mark": {"type": "tick", "orient": "horizontal", "color": "black", "thickness": 1.2, "size": 9, "opacity": 1},
         "encoding": {"x": {"field": "E", "type": "quantitative", "axis": null}, "y": {"field": "vhi", "type": "quantitative", "axis": null}}},
        {"data": {"name": "mn_d"}, "mark": {"type": "point", "filled": true, "stroke": "black", "strokeWidth": 1, "opacity": 1},
         "encoding": {
           "x": {"field": "E", "type": "quantitative", "axis": null}, "y": {"field": "v", "type": "quantitative", "axis": null},
           "shape": {"field": "inst", "type": "nominal", "scale": {"domain": ["ACE", "Ulysses", "Voyager", "ISOMAX"], "range": ["triangle-up", "circle", "square", "square"]}, "legend": null},
           "fill": {"field": "inst", "type": "nominal", "scale": {"domain": ["ACE", "Ulysses", "Voyager", "ISOMAX"], "range": ["black", "transparent", "transparent", "black"]}, "legend": null},
           "size": {"field": "inst", "type": "nominal", "scale": {"type": "ordinal", "domain": ["ACE", "Ulysses", "Voyager", "ISOMAX"], "range": [130, 175, 175, 175]}, "legend": null}
         }},
        {"data": {"name": "mn_a"}, "mark": {"type": "rule", "color": "black", "strokeWidth": 1},
         "encoding": {"x": {"field": "E1", "type": "quantitative", "axis": null}, "x2": {"field": "E2"}, "y": {"field": "v1", "type": "quantitative", "axis": null}, "y2": {"field": "v2"}}},
        {"data": {"name": "mn_k"}, "mark": {"type": "point", "filled": true, "stroke": "black", "strokeWidth": 1, "opacity": 1, "size": 70},
         "encoding": {"x": {"field": "E", "type": "quantitative", "axis": null}, "y": {"field": "v", "type": "quantitative", "axis": null}, "shape": {"field": "inst", "type": "nominal", "legend": null}, "fill": {"field": "inst", "type": "nominal", "legend": null}}},
        {"data": {"name": "mn_k"}, "mark": {"type": "text", "dx": 11, "fontSize": 19},
         "encoding": {"x": {"field": "E", "type": "quantitative", "axis": null}, "y": {"field": "v", "type": "quantitative", "axis": null}, "text": {"field": "inst"}}},
        {"data": {"name": "mn_n"}, "transform": [{"filter": "datum.k === 'title'"}], "mark": {"type": "text", "fontSize": 16, "dy": -8},
         "encoding": {"x": {"field": "E", "type": "quantitative", "axis": null}, "y": {"field": "v", "type": "quantitative", "axis": null}, "text": {"field": "a"}}},
        {"data": {"name": "mn_n"}, "transform": [{"filter": "datum.k === 'title'"}], "mark": {"type": "text", "fontSize": 25, "dx": 17.8},
         "encoding": {"x": {"field": "E", "type": "quantitative", "axis": null}, "y": {"field": "v", "type": "quantitative", "axis": null}, "text": {"field": "b"}}},
        {"data": {"name": "mn_n"}, "transform": [{"filter": "datum.k === 'phi'"}], "mark": {"type": "text", "fontSize": 25, "font": "Liberation Serif"},
         "encoding": {"x": {"field": "E", "type": "quantitative", "axis": null}, "y": {"field": "v", "type": "quantitative", "axis": null}, "text": {"field": "sym"}}},
        {"data": {"name": "mn_n"}, "transform": [{"filter": "datum.k === 'phi'"}], "mark": {"type": "text", "dx": 25, "fontSize": 24},
         "encoding": {"x": {"field": "E", "type": "quantitative", "axis": null}, "y": {"field": "v", "type": "quantitative", "axis": null}, "text": {"field": "t"}}},
        {"data": {"name": "mn_n"}, "transform": [{"filter": "datum.k === 'lis'"}], "mark": {"type": "text", "fontSize": 19},
         "encoding": {"x": {"field": "E", "type": "quantitative", "axis": null}, "y": {"field": "v", "type": "quantitative", "axis": null}, "text": {"field": "t"}}},
        {"data": {"name": "mn_n"}, "transform": [{"filter": "datum.k === 'myr'"}], "mark": {"type": "text", "align": "center", "fontSize": 19},
         "encoding": {"x": {"field": "E", "type": "quantitative", "axis": null}, "y": {"field": "v", "type": "quantitative", "axis": null}, "text": {"field": "t"}}},
        {"data": {"name": "mn_n"}, "transform": [{"filter": "datum.k === 'code'"}], "mark": {"type": "text", "align": "right", "fontSize": 12},
         "encoding": {"x": {"field": "E", "type": "quantitative", "axis": null}, "y": {"field": "v", "type": "quantitative", "axis": null}, "text": {"field": "t"}}}
      ]
    }
  ]
}
